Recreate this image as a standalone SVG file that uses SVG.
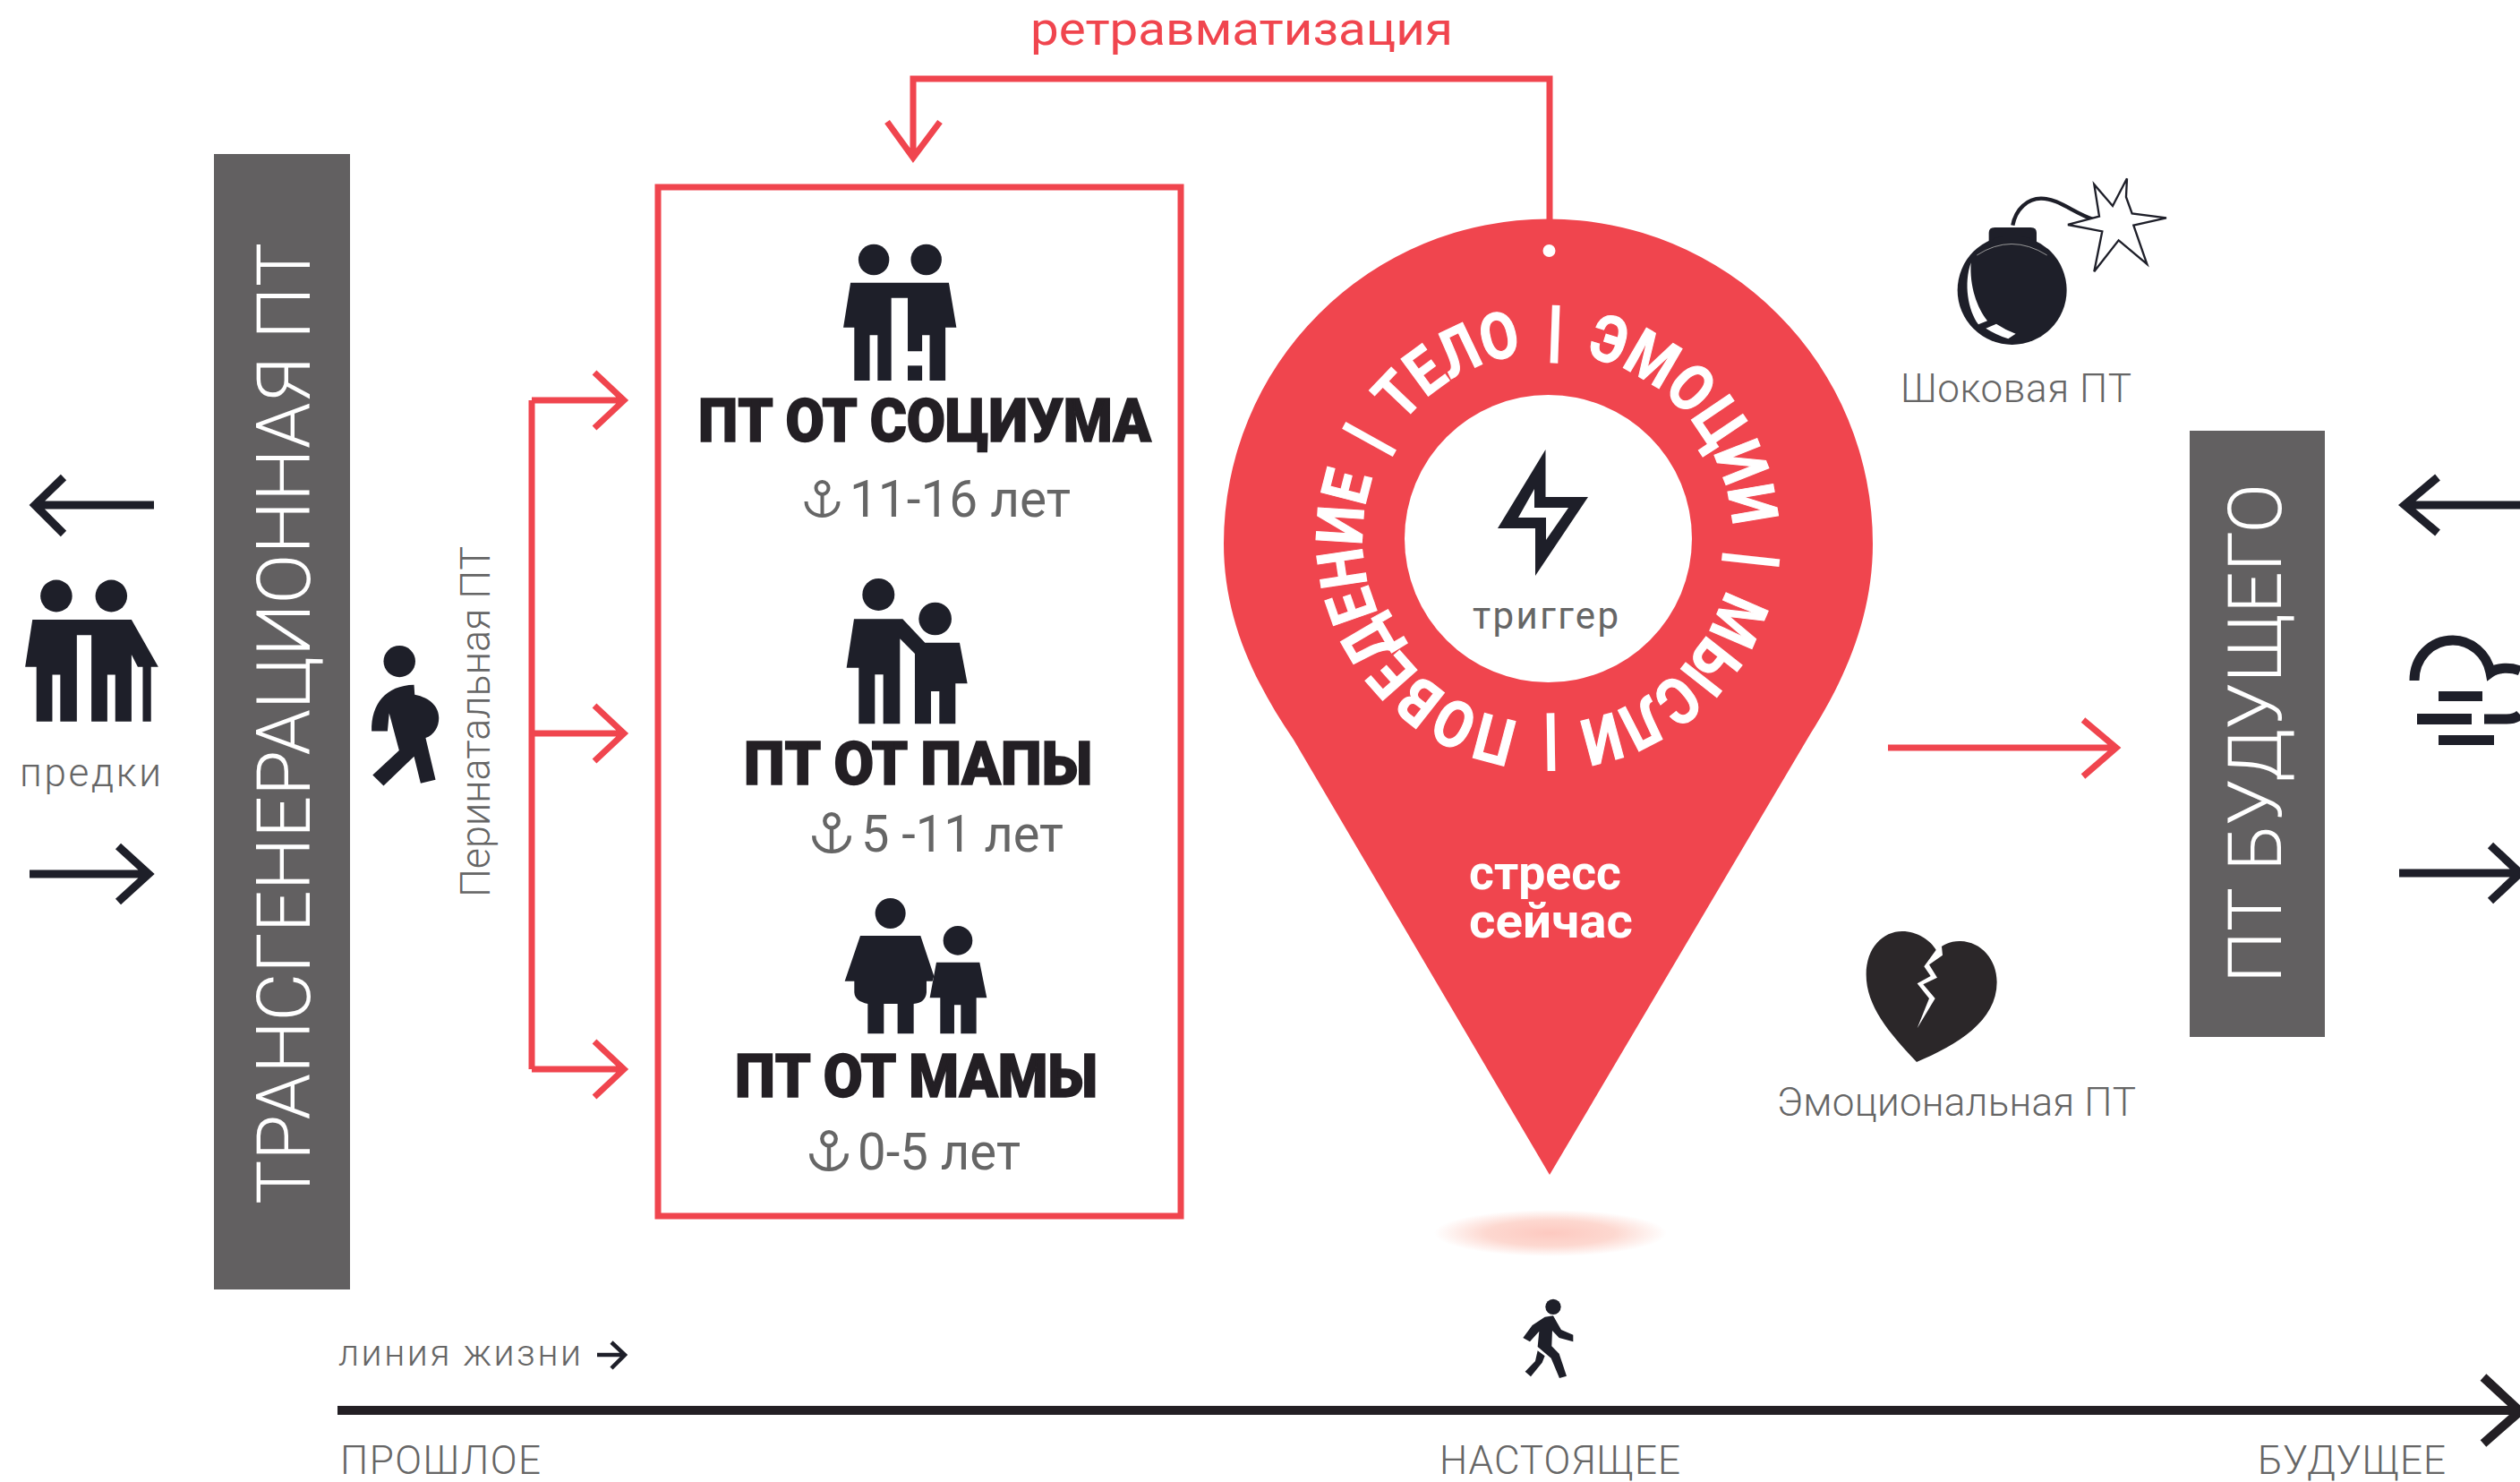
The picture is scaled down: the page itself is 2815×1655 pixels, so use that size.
<svg xmlns="http://www.w3.org/2000/svg" width="2815" height="1655" viewBox="0 0 2815 1655">
<style>
.dk{fill:#1e1f29}
.r{fill:none;stroke:#f0454e;stroke-width:7}
.k{fill:none;stroke:#1e1f29;stroke-width:9}
.t{font-family:"Roboto","Liberation Sans",sans-serif;fill:#666}
.bar{font-family:"Roboto","Liberation Sans",sans-serif;font-weight:300;fill:#fff;font-size:84px}
.h{font-family:"Roboto","Liberation Sans",sans-serif;font-weight:900;fill:#231f24;font-size:66px;stroke:#231f24;stroke-width:1.5}
.a{font-size:57px;font-weight:400}
.s{font-size:44px;font-weight:300}
.w{font-family:"Roboto","Liberation Sans",sans-serif;font-weight:700;fill:#fff;font-size:54px}
.p{stroke:#fff;stroke-width:4}
</style>
<defs>
<radialGradient id="sh"><stop offset="0" stop-color="#fdc9c0"/><stop offset=".55" stop-color="#fdd8d0"/><stop offset="1" stop-color="#fff"/></radialGradient>
<g id="anchor" fill="none" stroke="#666" stroke-width="4"><circle cy="-32" r="7"/><path d="M0-25V0M-18-17C-18-7-9-1 0-1S18-7 18-17"/></g>
</defs>
<rect width="2815" height="1655" fill="#fff"/>

<g id="connectors">
<path class="r" d="M1731 246V88H1020V174M991 136 1020 176 1050 136"/>
<path class="r" d="M594 447V1194M594 447H695M594 819H695M594 1194H695M664 416 697 447 664 478M664 788 697 819 664 850M664 1163 697 1194 664 1225"/>
<path class="r" d="M2109 835H2361M2327 804 2364 835 2327 867"/>
<path class="k" d="M172 564H41M71 533 39 564 71 596"/>
<path class="k" d="M33 976H164M132 945 166 976 132 1007"/>
<path class="k" d="M2815 564H2688M2723 533 2686 564 2723 595"/>
<path class="k" d="M2680 975H2812M2782 944 2815 975 2782 1006"/>
<path d="M377 1575H2812M2774 1538 2815 1576 2774 1612" fill="none" stroke="#231f24" stroke-width="10"/>
<path d="M667 1513H697M683 1499 698 1513 683 1528" fill="none" stroke="#1e1f29" stroke-width="4.500"/>
</g>

<g id="transgenerational">
<rect x="239" y="172" width="152" height="1268" fill="#626061"/>
<text class="bar" transform="translate(346 1345) rotate(-90)" textLength="1074" lengthAdjust="spacingAndGlyphs">ТРАНСГЕНЕРАЦИОННАЯ ПТ</text>
</g>

<g id="ancestors">
<g class="dk" transform="translate(0 500) scale(.37 .3448)">
<ellipse cx="170" cy="480" rx="48" ry="52"/><ellipse cx="336" cy="480" rx="48" ry="52"/>
<path d="M98 557H397L478 710H456V887H431V710H416L397 670V887H348V735H324V887H276V607H232V887H182V735H158V887H110V710H76Z"/>
</g>
<text class="t s" x="22" y="878" textLength="158" lengthAdjust="spacing">предки</text>
</g>

<g id="perinatal">
<g class="dk" transform="translate(0 500) scale(.37 .3448)">
<ellipse cx="1206" cy="692" rx="48" ry="51"/>
<path d="M1250 768 1252 800C1300 810 1325 840 1325 875 1325 905 1310 930 1285 940L1315 1075 1270 1087 1250 1000 1158 1095 1125 1060 1205 980 1175 860 1170 918H1122C1120 830 1165 770 1250 768Z"/>
</g>
<text class="t" transform="translate(547 1002) rotate(-90)" font-size="46" font-weight="300" textLength="392" lengthAdjust="spacingAndGlyphs">Перинатальная ПТ</text>
</g>

<g id="frame"><rect x="735" y="209" width="584" height="1149" class="r"/></g>

<g id="society">
<g class="dk" transform="translate(740 220) scale(.3827 .3333)">
<ellipse cx="617" cy="210" rx="45" ry="52"/><ellipse cx="770" cy="210" rx="45" ry="52"/>
<path d="M549 287H836L858 437H826V615H780V463H758V517H716V338H668V615H628V463H605V615H560V437H528Z"/>
<rect x="716" y="565" width="42" height="50"/>
</g>
<text class="h" x="780" y="493" textLength="506" lengthAdjust="spacingAndGlyphs">ПТ ОТ СОЦИУМА</text>
<use href="#anchor" transform="translate(918.500 577)"/>
<text class="t a" x="949" y="577" textLength="247" lengthAdjust="spacingAndGlyphs">11-16 лет</text>
</g>

<g id="father">
<g class="dk" transform="translate(780 630) scale(.3333)">
<circle cx="604" cy="102" r="54"/><circle cx="794" cy="183" r="55"/>
<path d="M522 184H685L760 263H876L902 400H862V535H808V426H780V535H726V300L676 250V535H620V370H592V535H538V347H497Z"/>
</g>
<text class="h" x="831" y="876" textLength="389" lengthAdjust="spacingAndGlyphs">ПТ ОТ ПАПЫ</text>
<use href="#anchor" transform="translate(929 952) scale(1.100)"/>
<text class="t a" x="962" y="951" textLength="226" lengthAdjust="spacingAndGlyphs">5 -11 лет</text>
</g>

<g id="mother">
<g class="dk" transform="translate(780 980) scale(.3333)">
<circle cx="644" cy="120" r="51"/><circle cx="870" cy="211" r="49"/>
<path d="M543 195H745L790 330 785 347H765V385Q762 420 722 423V523H668V423H622V523H568V423Q525 415 523 385V347H491Z"/>
<path d="M798 284H943L967 403H932V523H880V427H858V523H811V403H776Z"/>
</g>
<text class="h" x="821" y="1225" textLength="405" lengthAdjust="spacingAndGlyphs">ПТ ОТ МАМЫ</text>
<use href="#anchor" transform="translate(926 1307) scale(1.100)"/>
<text class="t a" x="958" y="1306" textLength="182" lengthAdjust="spacingAndGlyphs">0-5 лет</text>
</g>

<g id="retraumatization"><text x="1151" y="50" font-family="Roboto,'Liberation Sans',sans-serif" font-size="52" fill="#f0454e" textLength="472" lengthAdjust="spacingAndGlyphs">ретравматизация</text></g>

<g id="pin">
<ellipse cx="1732" cy="1377" rx="130" ry="26" fill="url(#sh)"/>
<path d="M1731 1312 1445 826C1400 760 1367 690 1367 607A362.500 362.500 0 0 1 2092 607C2092 690 2060 760 2022 820Z" fill="#f0454e"/>
<circle cx="1730.500" cy="280" r="7" fill="#fff"/>
<circle cx="1729.500" cy="601.500" r="160.500" fill="#fff"/>
<path id="ring" d="M1729 808A207 207 0 1 1 1729 394A207 207 0 1 1 1729 808" fill="none"/>
<text style="font-family:Roboto,'Liberation Sans',sans-serif;font-weight:700;font-size:72px" fill="#fff" stroke="#fff" stroke-width="1.200" word-spacing="14" transform="rotate(-3 1729 601)"><textPath href="#ring" startOffset="0" textLength="1278" lengthAdjust="spacingAndGlyphs"><tspan class="p">|</tspan> ПОВЕДЕНИЕ <tspan class="p">|</tspan> ТЕЛО <tspan class="p">|</tspan> ЭМОЦИИ <tspan class="p">|</tspan> МЫСЛИ</textPath></text>
<path class="dk" fill-rule="evenodd" d="M1726.500 502V555H1774L1715 643V590H1673ZM1714 546 1696 578H1727V603L1752 567H1714Z"/>
<text class="t" x="1645" y="702" font-size="42" textLength="163" lengthAdjust="spacing">триггер</text>
<text class="w" x="1641" y="993" textLength="170" lengthAdjust="spacingAndGlyphs">стресс</text>
<text class="w" x="1641" y="1047" textLength="183" lengthAdjust="spacingAndGlyphs">сейчас</text>
</g>

<g id="shock">
<g transform="translate(2080 170) scale(.3333)">
<path d="M505 245C515 190 555 155 600 155 660 155 710 205 775 225" fill="none" stroke="#1e1f29" stroke-width="13"/>
<path class="dk" d="M425 270Q425 252 445 252H565Q585 252 585 270V315H425Z"/>
<circle class="dk" cx="503" cy="462" r="183"/>
<path d="M365 370C340 440 355 530 390 577L420 565C385 520 360 450 365 370Z" fill="#fff"/>
<path d="M415 590 450 575Q480 595 515 608L490 625Q450 612 415 590Z" fill="#fff"/>
<path d="M385 345Q500 270 620 345" fill="none" stroke="#999" stroke-width="3"/>
<path d="M888 88 885 150 905 205 1020 220 910 245 955 375 860 295 778 400 805 265 690 243 795 215 778 108 840 180Z" fill="#fff" stroke="#1e1f29" stroke-width="7" stroke-linejoin="miter"/>
</g>
<text class="t s" x="2123" y="449" textLength="258" lengthAdjust="spacing">Шоковая ПТ</text>
</g>

<g id="emotional">
<g transform="translate(1960 1000) scale(.3333)">
<path d="M543 558C450 460 374 370 374 265 374 175 430 120 495 120 545 120 590 150 610 185 630 165 655 152 690 153 760 155 812 215 812 290 812 420 680 500 543 558Z" fill="#2b2729"/>
<path d="M610 180 568 238 590 270 545 295 585 345 545 445 605 345 565 298 612 275 585 232 630 200 627 170Z" fill="#fff"/>
</g>
<text class="t s" x="1985" y="1246" textLength="401" lengthAdjust="spacing">Эмоциональная ПТ</text>
</g>

<g id="future">
<rect x="2446" y="481" width="151" height="677" fill="#626061"/>
<text class="bar" transform="translate(2548 1098) rotate(-90)" textLength="558" lengthAdjust="spacingAndGlyphs">ПТ БУДУЩЕГО</text>
</g>

<g id="cloud">
<path d="M2697 760C2697 735 2715 715 2740 715 2760 715 2778 730 2782 751 2790 745 2805 745 2815 749M2775 803H2800Q2810 803 2815 798" fill="none" stroke="#1e1f29" stroke-width="11"/>
<path class="dk" d="M2724 772H2773V783H2724ZM2700 797H2761V809H2700ZM2724 821H2786V832H2724Z"/>
</g>

<g id="walker">
<g class="dk" transform="translate(1560 1340) scale(.3333)">
<circle cx="525" cy="358" r="26"/>
<path d="M497 392 525 388Q540 415 552 435L592 452V475L545 462 522 438 520 490 545 515 570 590 546 597 518 530 473 492 478 440 447 475 424 462 455 420Z"/>
<path d="M473 505 497 523 488 545 450 592 431 575 465 540Z"/>
</g>
</g>

<g id="labels">
<text class="t" x="378" y="1525" font-size="41" font-weight="300" textLength="271" lengthAdjust="spacing">линия жизни</text>
<text class="t s" x="380" y="1646" textLength="224" lengthAdjust="spacing">ПРОШЛОЕ</text>
<text class="t s" x="1608" y="1646" textLength="269" lengthAdjust="spacing">НАСТОЯЩЕЕ</text>
<text class="t s" x="2522" y="1646" textLength="210" lengthAdjust="spacing">БУДУЩЕЕ</text>
</g>
</svg>
